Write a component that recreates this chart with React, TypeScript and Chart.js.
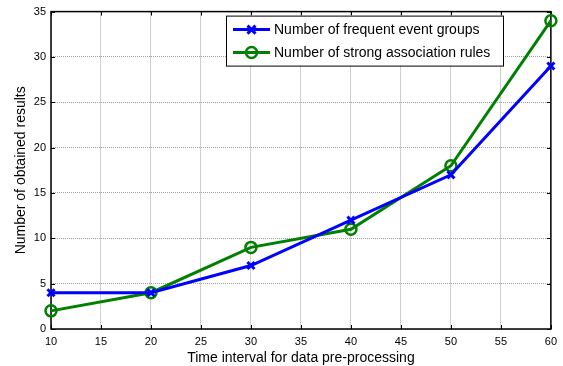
import React, { useEffect, useRef } from 'react';
import { Chart, registerables } from 'chart.js';

Chart.register(...registerables);

const xValues = [10, 20, 30, 40, 50, 60];
const frequentEventGroups = [4, 4, 7, 12, 17, 29];
const strongAssociationRules = [2, 4, 9, 11, 18, 34];
const xTicks = [10, 15, 20, 25, 30, 35, 40, 45, 50, 55, 60];
const yTicks = [0, 5, 10, 15, 20, 25, 30, 35];
const seriesLabels = ['Number of frequent event groups', 'Number of strong association rules'];
const xTitle = 'Time interval for data pre-processing';
const yTitle = 'Number of obtained results';

const FONT = "'Liberation Sans', Arial, sans-serif";

const matlabAxes = {
  id: 'matlabAxes',
  beforeDatasetsDraw(chart: any) {
    const { ctx, chartArea, scales } = chart;
    const { left, right, top, bottom } = chartArea;
    const x = scales.x;
    const y = scales.y;
    ctx.save();
    ctx.strokeStyle = '#000';
    ctx.lineWidth = 1;
    const tl = 4;
    ctx.beginPath();
    for (const v of xTicks) {
      const px = Math.round(x.getPixelForValue(v)) + 0.5;
      ctx.moveTo(px, bottom);
      ctx.lineTo(px, bottom - tl);
      ctx.moveTo(px, top);
      ctx.lineTo(px, top + tl);
    }
    for (const v of yTicks) {
      const py = Math.round(y.getPixelForValue(v)) + 0.5;
      ctx.moveTo(left, py);
      ctx.lineTo(left + tl, py);
      ctx.moveTo(right, py);
      ctx.lineTo(right - tl, py);
    }
    ctx.stroke();
    ctx.lineWidth = 1.5;
    ctx.strokeRect(left, top, right - left, bottom - top);
    ctx.restore();
  },
  afterDraw(chart: any) {
    const { ctx, chartArea } = chart;
    const bx = chartArea.left + 175;
    const by = chartArea.top + 4;
    const bw = 277;
    const bh = 50;
    ctx.save();
    ctx.fillStyle = '#fff';
    ctx.fillRect(bx, by, bw, bh);
    ctx.strokeStyle = '#000';
    ctx.lineWidth = 1;
    ctx.strokeRect(bx + 0.5, by + 0.5, bw, bh);
    const rows = [by + 14, by + 37];
    chart.data.datasets.forEach((ds: any, i: number) => {
      const ry = rows[i];
      const x0 = bx + 7;
      const x1 = bx + 44;
      ctx.strokeStyle = ds.borderColor;
      ctx.lineWidth = ds.borderWidth;
      ctx.beginPath();
      ctx.moveTo(x0, ry);
      ctx.lineTo(x1, ry);
      ctx.stroke();
      const cx = (x0 + x1) / 2;
      ctx.lineWidth = ds.pointBorderWidth;
      ctx.beginPath();
      if (ds.pointStyle === 'circle') {
        ctx.arc(cx, ry, ds.pointRadius, 0, Math.PI * 2);
      } else {
        const r = ds.pointRadius * 0.8;
        ctx.moveTo(cx - r, ry - r);
        ctx.lineTo(cx + r, ry + r);
        ctx.moveTo(cx - r, ry + r);
        ctx.lineTo(cx + r, ry - r);
      }
      ctx.stroke();
      ctx.fillStyle = '#000';
      ctx.font = `14px ${FONT}`;
      ctx.textBaseline = 'middle';
      ctx.textAlign = 'left';
      ctx.fillText(ds.label, x1 + 4, ry + 0.5);
    });
    ctx.restore();
  },
};

export default function App() {
  const ref = useRef<HTMLCanvasElement>(null);
  useEffect(() => {
    const canvas = ref.current;
    if (!canvas) return;
    const chart = new Chart(canvas, {
      type: 'line',
      data: {
        datasets: [
          {
            label: seriesLabels[0],
            data: xValues.map((v, i) => ({ x: v, y: frequentEventGroups[i] })),
            borderColor: '#0000ff',
            backgroundColor: 'transparent',
            borderWidth: 3,
            pointStyle: 'crossRot',
            pointRadius: 5,
            pointBorderWidth: 3,
            pointBorderColor: '#0000ff',
            pointBackgroundColor: 'transparent',
            clip: false,
          } as any,
          {
            label: seriesLabels[1],
            data: xValues.map((v, i) => ({ x: v, y: strongAssociationRules[i] })),
            borderColor: '#008000',
            backgroundColor: 'transparent',
            borderWidth: 3,
            pointStyle: 'circle',
            pointRadius: 5.5,
            pointBorderWidth: 2.5,
            pointBorderColor: '#008000',
            pointBackgroundColor: 'transparent',
            clip: false,
          } as any,
        ],
      },
      options: {
        responsive: false,
        animation: false,
        layout: { padding: { top: 11, right: 10, left: 0, bottom: 0 } },
        plugins: { legend: { display: false }, tooltip: { enabled: false } },
        scales: {
          x: {
            type: 'linear',
            min: 10,
            max: 60,
            afterBuildTicks: (s: any) => {
              s.ticks = xTicks.map((v) => ({ value: v }));
            },
            ticks: { font: { family: FONT, size: 11 }, color: '#000', padding: 6, maxRotation: 0, autoSkip: false },
            grid: { color: '#a0a0a0', drawTicks: false, lineWidth: 1 },
            border: { display: false, dash: [1, 1] },
            title: {
              display: true,
              text: xTitle,
              color: '#000',
              font: { family: FONT, size: 14, lineHeight: 1 },
              padding: { top: 0, bottom: 1 },
            },
            afterFit: (s: any) => {
              s.height = 37;
            },
          },
          y: {
            type: 'linear',
            min: 0,
            max: 35,
            afterBuildTicks: (s: any) => {
              s.ticks = yTicks.map((v) => ({ value: v }));
            },
            ticks: { font: { family: FONT, size: 11 }, color: '#000', padding: 5, autoSkip: false },
            grid: { color: '#a0a0a0', drawTicks: false, lineWidth: 1 },
            border: { display: false, dash: [1, 1] },
            title: {
              display: true,
              text: yTitle,
              color: '#000',
              font: { family: FONT, size: 14, lineHeight: 1 },
              padding: { top: 14, bottom: 0 },
            },
            afterFit: (s: any) => {
              s.width = 51;
            },
          },
        },
      } as any,
      plugins: [matlabAxes],
    });
    return () => chart.destroy();
  }, []);
  return (
    <div style={{ position: 'absolute', left: 0, top: 0, width: 563, height: 366, background: '#fff' }}>
      <canvas ref={ref} width={563} height={366} style={{ display: 'block' }} />
    </div>
  );
}
